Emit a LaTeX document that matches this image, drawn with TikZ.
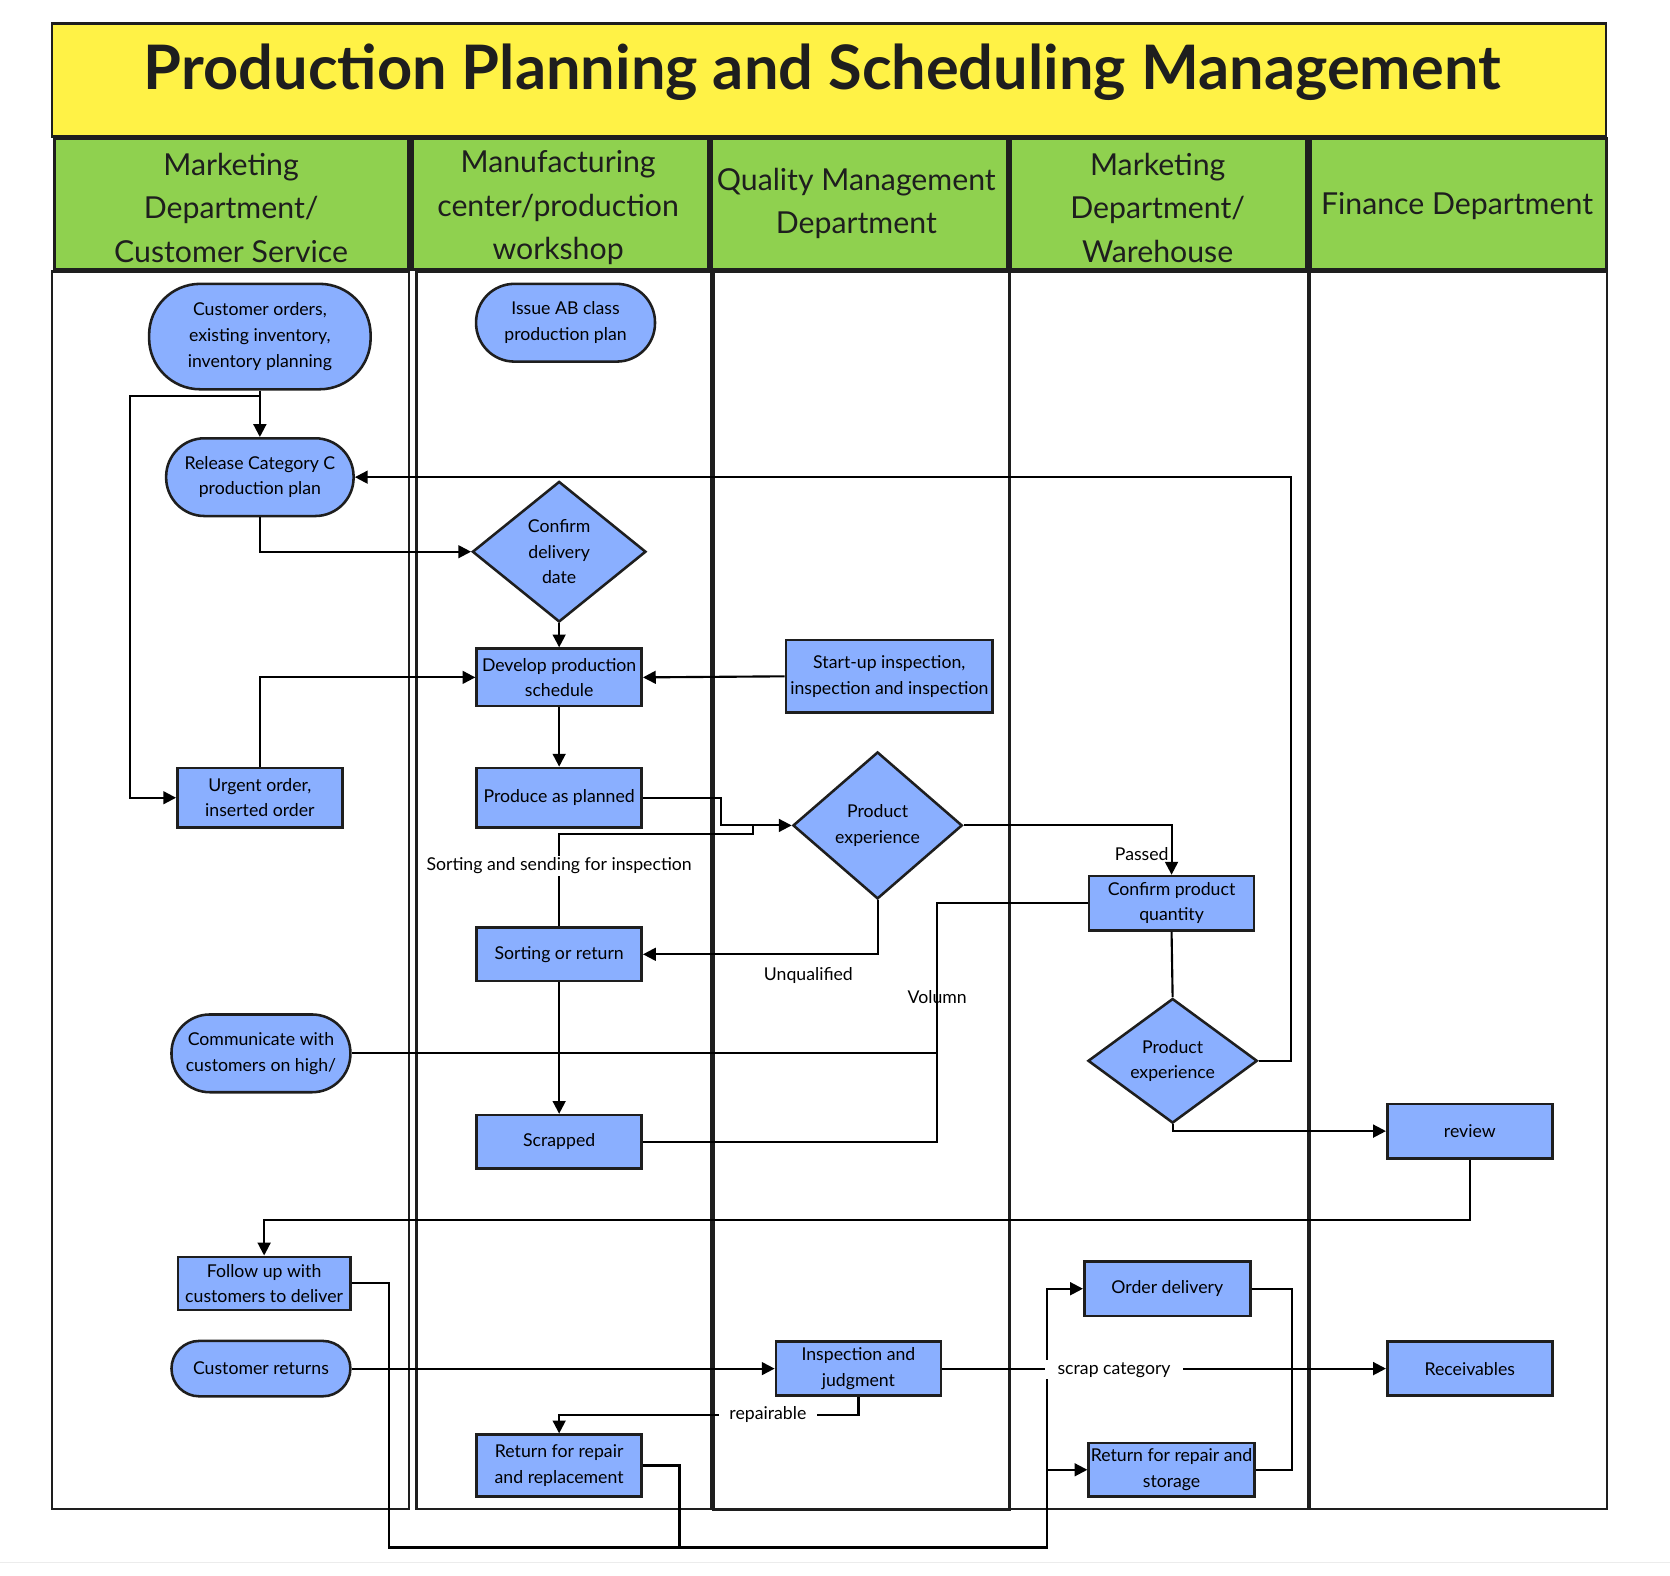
\documentclass[tikz,border=0pt]{standalone}
\usepackage{fontspec}
\setmainfont{Lato}
\usetikzlibrary{shapes.geometric,arrows.meta}
\definecolor{ttl}{RGB}{255,242,70}
\definecolor{hdr}{RGB}{143,209,79}
\definecolor{nfill}{RGB}{138,175,255}
\definecolor{ln}{RGB}{30,30,30}
\begin{document}
\begin{tikzpicture}[x=0.5pt,y=-0.5pt,
  nfont/.style={font=\fontsize{8.3}{12}\selectfont},
  box/.style={draw=ln,fill=nfill,line width=1.2pt,minimum width=77.5pt,inner sep=1pt,align=center,nfont},
  pill/.style={box,rounded corners=18pt},
  dia/.style={diamond,draw=ln,fill=nfill,line width=1.2pt,inner sep=0pt,align=center,nfont},
  hdrtext/.style={align=center,font=\fontsize{14.2}{20.5}\selectfont,text=ln},
  lbl/.style={nfont,inner sep=1pt},
  lane/.style={draw=ln,line width=1.2pt},
  conn/.style={line width=1pt,draw=black},
  arr/.style={conn,-{Triangle[length=6pt,width=6pt]}}
]
\useasboundingbox (0,0) rectangle (1568,1479);
% title
\draw[lane,fill=ttl] (49,22) rectangle (1508,128);
\node[font=\bfseries\fontsize{28.8}{34}\selectfont,text=ln] (title) at (772,68) {Production Planning and Scheduling Management};
% headers
\draw[lane,fill=hdr,line width=1.5pt] (51,130) rectangle (384,253);
\draw[lane,fill=hdr,line width=1.5pt] (387,130) rectangle (665,253);
\draw[lane,fill=hdr,line width=1.5pt] (668,130) rectangle (946,253);
\draw[lane,fill=hdr,line width=1.5pt] (949,130) rectangle (1227,253);
\draw[lane,fill=hdr,line width=1.5pt] (1230,130) rectangle (1508,253);
\node[hdrtext] (h1) at (217,195) {Marketing\\Department/\\Customer Service};
\node[hdrtext] (h2) at (524,195) {Manufacturing\\center/production\\workshop};
\node[hdrtext] (h3) at (804,191) {Quality Management\\Department};
\node[hdrtext] (h4) at (1087,195) {Marketing\\Department/\\Warehouse};
\node[hdrtext] (h5) at (1368,193) {Finance Department};
% lanes
\draw[lane] (49,255) rectangle (384,1417);
\draw[lane] (391,255) rectangle (668,1417);
\draw[lane,line width=1.5pt] (670,255) rectangle (948,1417);
\draw[lane] (948,255) rectangle (1228,1417);
\draw[lane,line width=1.5pt] (1229,255) -- (1229,1417);
\draw[lane] (1230,255) rectangle (1509,1417);
\draw[gray!15,line width=0.8pt] (0,1467) -- (1568,1467);
% nodes
\node[pill,rounded corners=24pt,minimum width=104pt,minimum height=49.5pt] (n1) at (244,316) {Customer orders,\\existing inventory,\\inventory planning};
\node[pill,minimum width=84pt,minimum height=36.5pt] (n2) at (531,303) {Issue AB class\\production plan};
\node[pill,minimum width=88pt,minimum height=36.5pt] (n3) at (244,448) {Release Category C\\production plan};
\node[dia,aspect=1.23,minimum width=81.5pt,minimum height=66pt] (n4) at (525,518) {Confirm\\delivery\\date};
\node[box,minimum height=27pt] (n5) at (525,636) {Develop production\\schedule};
\node[box,minimum width=97pt,minimum height=34pt] (n6) at (835,635) {Start-up inspection,\\inspection and inspection};
\node[box,minimum height=28pt] (n7) at (244,749) {Urgent order,\\inserted order};
\node[box,minimum height=28pt] (n8) at (525,749) {Produce as planned};
\node[dia,aspect=1.15,minimum width=79.5pt,minimum height=69pt] (n9) at (824,775) {Product\\experience};
\node[box,minimum height=25.5pt] (n10) at (1100,848) {Confirm product\\quantity};
\node[box,minimum height=25pt] (n11) at (525,896) {Sorting or return};
\node[pill,minimum width=84pt,minimum height=36.5pt] (n12) at (245,989) {Communicate with\\customers on high/};
\node[dia,aspect=1.36,minimum width=79.5pt,minimum height=58.5pt] (n13) at (1101,996) {Product\\experience};
\node[box,minimum height=25pt] (n14) at (525,1072) {Scrapped};
\node[box,minimum height=25.5pt] (n15) at (1380,1062) {review};
\node[box,minimum width=81pt,minimum height=25pt] (n16) at (248,1205) {Follow up with\\customers to deliver};
\node[box,minimum width=78pt,minimum height=25.5pt] (n17) at (1096,1210) {Order delivery};
\node[pill,rounded corners=13pt,minimum width=84pt,minimum height=26pt] (n18) at (245,1285) {Customer returns};
\node[box,minimum height=25.5pt] (n19) at (806,1285) {Inspection and\\judgment};
\node[box,minimum height=25.5pt] (n20) at (1380,1285) {Receivables};
\node[box,minimum height=29pt] (n21) at (525,1376) {Return for repair\\and replacement};
\node[box,minimum height=25pt] (n22) at (1100,1380) {Return for repair and\\storage};
% connectors
\draw[arr] (n1.south) -- (n3.north);
\draw[arr] (n1.south) |- (122,372) |- (n7.west);
\draw[arr] (n3.south) |- (n4.west);
\draw[arr] (n4.south) -- (n5.north);
\draw[arr] (n7.north) |- (n5.west);
\draw[arr] (n6.west) -- (n5.east);
\draw[arr] (n5.south) -- (n8.north);
\coordinate (m1) at (707,775);
\draw[arr] (n8.east) -| (677,775) -- (n9.west);
\draw[conn] (n11.north) -- (525,783) -| (m1);
\node[lbl,fill=white] (l1) at (525,813) {Sorting and sending for inspection};
\draw[arr] (n9.east) -| (n10.north);
\node[lbl] (l2) at (1072,802) {Passed};
\draw[arr] (n9.south) |- (n11.east);
\node[lbl] (l3) at (759,916) {Unqualified};
\draw[arr] (n11.south) -- (n14.north);
\draw[conn] (n10.west) -| (880,1072) -- (n14.east);
\draw[conn] (n12.east) -- (880,989);
\node[lbl] (l4) at (880,936) {Volumn};
\draw[conn] (n10.south) -- (n13.north);
\draw[arr] (n13.east) -| (1212,448) -- (n3.east);
\draw[arr] (n13.south) |- (n15.west);
\draw[arr] (n15.south) -- ++(0,57) -| (n16.north);
\coordinate (j1) at (983,1453);
\coordinate (j2) at (983,1380);
\draw[arr] (n16.east) -| (365,1453) -- (j1) |- (n22.west);
\draw[arr] (j2) |- (n17.west);
\draw[conn] (n21.east) -| (638,1453);
\draw[arr] (n18.east) -- (n19.west);
\draw[arr] (n19.south) -- ++(0,17) -| (n21.north);
\node[lbl,fill=white,inner xsep=5pt] (l5) at (721,1328) {repairable};
\draw[arr] (n19.east) -- (n20.west);
\node[lbl,fill=white,inner xsep=6pt] (l6) at (1046,1286) {scrap category};
\draw[conn] (n17.east) -| (1213,1380) -- (n22.east);
\end{tikzpicture}
\end{document}
